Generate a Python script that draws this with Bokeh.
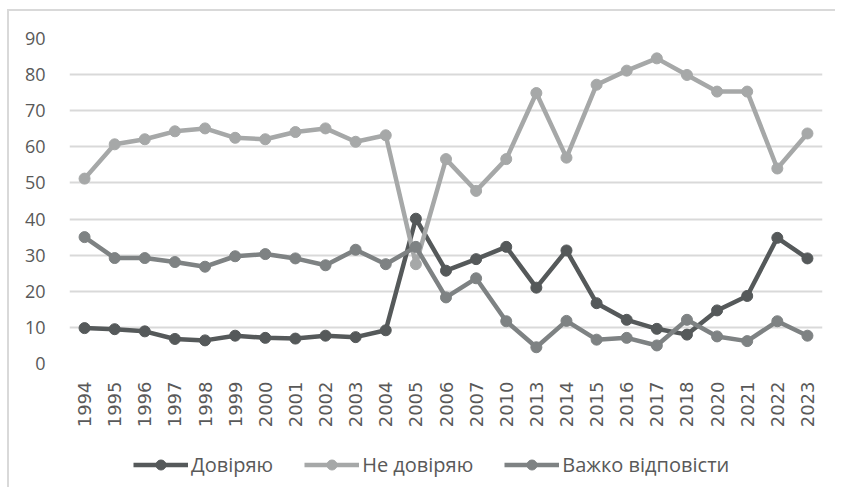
from bokeh.plotting import figure
from bokeh.layouts import column
from bokeh.models import FactorRange, Range1d, Legend, LegendItem, FixedTicker
from bokeh.embed import file_html
from bokeh.resources import INLINE
import math

years = ["1994", "1995", "1996", "1997", "1998", "1999", "2000", "2001", "2002",
         "2003", "2004", "2005", "2006", "2007", "2010", "2013", "2014", "2015",
         "2016", "2017", "2018", "2020", "2021", "2022", "2023"]

doviryayu = [9.8, 9.5, 8.9, 6.8, 6.4, 7.7, 7.1, 6.9, 7.7, 7.3, 9.2, 40.1,
             25.7, 28.9, 32.3, 21.0, 31.3, 16.7, 12.1, 9.6, 8.0, 14.7, 18.7, 34.8, 29.1]
ne_doviryayu = [51.2, 60.7, 62.1, 64.3, 65.1, 62.5, 62.1, 64.1, 65.1, 61.4, 63.2, 27.5,
                56.6, 47.8, 56.6, 74.9, 57.0, 77.2, 81.1, 84.5, 79.9, 75.3, 75.3, 54.0, 63.7]
vazhko = [35.0, 29.2, 29.2, 28.1, 26.8, 29.7, 30.3, 29.1, 27.2, 31.5, 27.5, 32.3,
          18.3, 23.6, 11.7, 4.5, 11.8, 6.6, 7.1, 5.0, 12.1, 7.5, 6.2, 11.7, 7.7]

series_names = ["Довіряю", "Не довіряю", "Важко відповісти"]
y_ticks = [0, 10, 20, 30, 40, 50, 60, 70, 80, 90]

colors = ["#55595A", "#A6A8A8", "#7E8283"]
text_color = "#595959"
grid_color = "#D9D9D9"
border_color = "#D9D9D9"

p = figure(width=826, height=419, x_range=FactorRange(*years), y_range=Range1d(0, 90),
           output_backend="svg", toolbar_location=None,
           min_border_left=60, min_border_right=13, min_border_top=27, min_border_bottom=64)
p.outline_line_color = None
p.background_fill_color = "white"
p.border_fill_color = "white"

p.xgrid.grid_line_color = None
p.ygrid.grid_line_color = grid_color
p.ygrid.grid_line_width = 2
p.yaxis.ticker = FixedTicker(ticks=y_ticks)

for ax in (p.xaxis, p.yaxis):
    ax.axis_line_color = None
    ax.major_tick_line_color = None
    ax.minor_tick_line_color = None
    ax.major_label_text_color = text_color

p.yaxis.major_label_text_font = "Open Sans"
p.yaxis.major_label_text_font_size = "18px"
p.yaxis.major_label_standoff = 18
p.xaxis.major_label_text_font = "DejaVu Sans"
p.xaxis.major_label_text_font_size = "18px"
p.xaxis.major_label_orientation = math.pi / 2
p.xaxis.major_label_standoff = 12

for vals, col in zip([doviryayu, ne_doviryayu, vazhko], colors):
    p.line(years, vals, line_color=col, line_width=4.5)
    p.scatter(years, vals, size=11, fill_color=col, line_color=col)

# legend strip below the chart
p2 = figure(width=826, height=57, x_range=Range1d(0, 1), y_range=Range1d(0, 1),
            output_backend="svg", toolbar_location=None,
            x_axis_location=None, y_axis_location=None,
            min_border_left=0, min_border_right=0, min_border_top=0, min_border_bottom=0)
p2.outline_line_color = None
p2.xgrid.grid_line_color = None
p2.ygrid.grid_line_color = None
p2.background_fill_color = "white"
p2.border_fill_color = "white"

items = []
for name, col in zip(series_names, colors):
    l = p2.line(x=[-10, -9], y=[-10, -9], line_color=col, line_width=4.5)
    s = p2.scatter(x=[-10], y=[-10], size=11, fill_color=col, line_color=col)
    items.append(LegendItem(label=name, renderers=[l, s]))

legend = Legend(items=items, orientation="horizontal", location=(64, 9),
                glyph_width=55, glyph_height=25, label_standoff=3, spacing=31,
                padding=0, margin=0, border_line_color=None, background_fill_alpha=0,
                label_text_font="Open Sans", label_text_font_size="20px",
                label_text_color=text_color, label_height=25)
p2.add_layout(legend, "center")

frame_bg = ("linear-gradient({c},{c}) 7px 9px / 100% 2px no-repeat, "
            "linear-gradient({c},{c}) 7px 9px / 2px 100% no-repeat, white").format(c=border_color)
layout = column(p, p2, spacing=0,
                styles={"padding-left": "9px", "padding-top": "11px", "background": frame_bg})

open("out.html", "w").write(file_html(layout, INLINE))
